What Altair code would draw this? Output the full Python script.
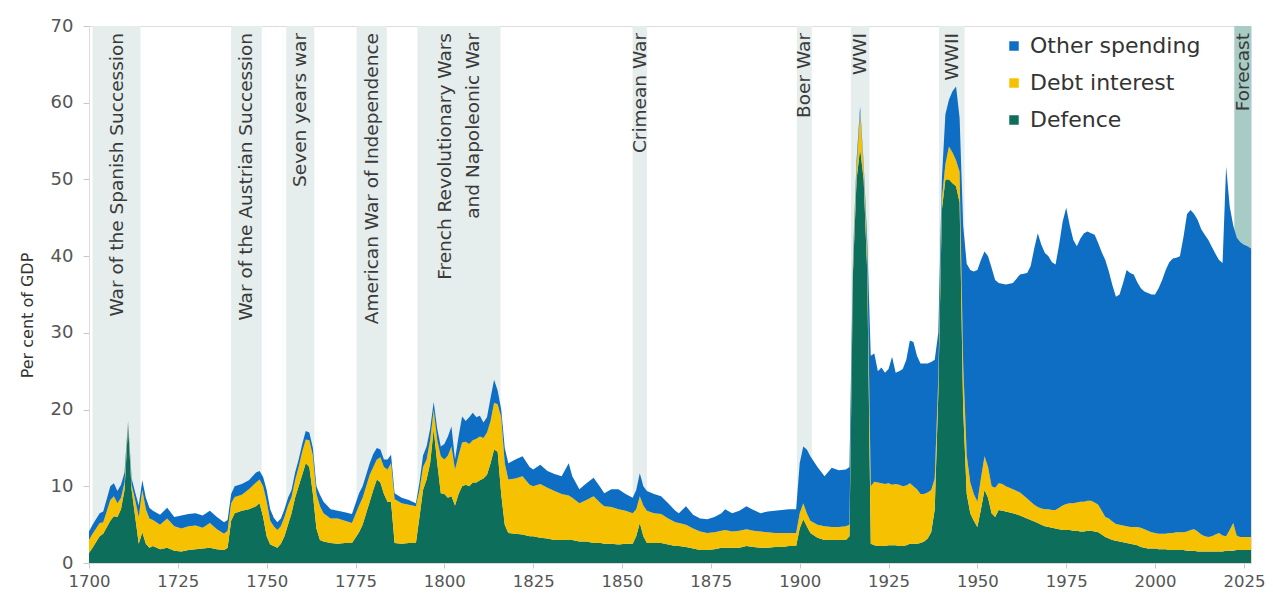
import altair as alt
import pandas as pd

# ---------------- data ----------------
YEARS = [
    1700, 1701, 1703, 1704, 1706, 1707, 1708, 1709, 1710, 1711, 1712, 1713, 1714, 1715, 1716, 1717, 1718, 1720, 1722, 1724, 1726, 1728, 1730, 1732, 1734, 1736, 1738, 1739,
    1740, 1741, 1743, 1745, 1747, 1748, 1749, 1750, 1751, 1752, 1753, 1754, 1755, 1756, 1757, 1758, 1759, 1760, 1761, 1762, 1763, 1764, 1765, 1766, 1768, 1770, 1772, 1774,
    1776, 1777, 1778, 1779, 1780, 1781, 1782, 1783, 1784, 1785, 1786, 1788, 1790, 1792, 1793, 1794, 1795, 1796, 1797, 1798, 1799,
    1800, 1801, 1802, 1803, 1804, 1805, 1806, 1807, 1808, 1809, 1810, 1811, 1812, 1813, 1814, 1815, 1816, 1817, 1818,
    1820, 1822, 1824, 1825, 1827, 1829, 1831, 1833, 1835, 1836, 1838, 1840, 1842, 1844, 1845, 1847, 1849, 1851, 1853, 1854,
    1855, 1856, 1857, 1859, 1861, 1863, 1865, 1866, 1868, 1870, 1872, 1874, 1876, 1878, 1879, 1881, 1883, 1885, 1887, 1889,
    1891, 1893, 1895, 1897, 1899,
    1900, 1901, 1902, 1903, 1905, 1907, 1909, 1911, 1913, 1914, 1915, 1916, 1917, 1918, 1919,
    1920, 1921, 1922, 1923, 1924, 1925, 1926, 1927, 1928, 1929, 1930, 1931, 1932, 1933, 1934, 1935, 1936, 1937, 1938, 1939,
    1940, 1941, 1942, 1943, 1944, 1945, 1946, 1947, 1948, 1949, 1950, 1951, 1952, 1953, 1954, 1955, 1956, 1957, 1958,
    1960, 1962, 1964,
    1965, 1966, 1967, 1968, 1969, 1970, 1971, 1972, 1973, 1974, 1975, 1976, 1977, 1978, 1979,
    1980, 1981, 1982, 1983, 1984, 1985, 1986, 1987, 1988, 1989, 1990, 1991, 1992, 1993, 1994,
    1995, 1996, 1997, 1998, 1999, 2000, 2001, 2002, 2003, 2004, 2005, 2006, 2007, 2008, 2009,
    2010, 2011, 2012, 2013, 2014, 2015, 2016, 2017, 2018, 2019, 2020, 2021, 2022, 2023, 2024,
    2025, 2026, 2027,
]

DEFENCE = [
    1.3, 2.0, 3.5, 3.8, 5.5, 6.1, 6.0, 7.0, 9.5, 18.0, 9.5, 6.0, 2.5, 4.0, 2.5, 2.0, 2.2, 1.8, 2.0, 1.6, 1.5, 1.7, 1.8, 1.9, 2.0, 1.8, 1.7, 2.0,
    5.5, 6.5, 6.8, 7.0, 7.4, 7.8, 6.0, 3.5, 2.4, 2.2, 2.0, 2.5, 3.5, 5.0, 6.5, 8.5, 10.0, 11.5, 13.0, 12.5, 9.0, 4.5, 3.0, 2.8, 2.6, 2.5, 2.6, 2.6,
    4.0, 5.0, 6.5, 8.0, 9.5, 10.9, 10.5, 9.0, 8.0, 8.0, 2.6, 2.5, 2.6, 2.6, 6.0, 9.5, 10.9, 13.0, 17.4, 13.0, 9.1,
    9.0, 8.5, 8.7, 7.5, 9.0, 10.0, 10.2, 10.0, 10.5, 10.5, 10.8, 11.0, 11.5, 13.0, 14.8, 14.5, 9.0, 5.0, 3.9,
    3.8, 3.7, 3.5, 3.5, 3.3, 3.2, 3.0, 3.0, 3.0, 3.0, 2.8, 2.8, 2.6, 2.6, 2.5, 2.5, 2.4, 2.5, 2.5, 3.5,
    5.2, 3.5, 2.6, 2.6, 2.6, 2.4, 2.2, 2.2, 2.1, 1.9, 1.7, 1.7, 1.8, 2.0, 2.0, 2.0, 2.0, 2.2, 2.1, 2.0,
    2.0, 2.1, 2.1, 2.2, 2.2,
    4.5, 5.7, 4.8, 3.9, 3.3, 3.0, 3.0, 3.0, 3.0, 3.5, 38.0, 50.0, 54.0, 50.0, 38.0,
    2.5, 2.3, 2.2, 2.2, 2.2, 2.3, 2.3, 2.3, 2.2, 2.2, 2.3, 2.5, 2.5, 2.5, 2.6, 2.8, 3.2, 4.0, 7.0, 22.0,
    46.0, 50.0, 50.0, 49.5, 49.1, 47.0, 20.0, 9.0, 6.5, 5.5, 4.7, 7.0, 9.5, 8.5, 6.5, 6.0, 6.9, 6.8, 6.7,
    6.5, 6.2, 5.8,
    5.6, 5.4, 5.2, 5.0, 4.8, 4.7, 4.6, 4.5, 4.4, 4.3, 4.3, 4.3, 4.2, 4.2, 4.1,
    4.1, 4.2, 4.2, 4.1, 4.0, 3.7, 3.4, 3.2, 3.0, 2.9, 2.8, 2.7, 2.6, 2.5, 2.4,
    2.3, 2.1, 2.0, 1.9, 1.9, 1.9, 1.8, 1.8, 1.8, 1.7, 1.7, 1.7, 1.7, 1.7, 1.6,
    1.6, 1.6, 1.5, 1.5, 1.5, 1.5, 1.5, 1.5, 1.5, 1.5, 1.6, 1.6, 1.6, 1.7, 1.7,
    1.7, 1.7, 1.7,
]

DEBT_INTEREST = [
    1.7, 1.8, 1.7, 1.5, 2.7, 2.6, 1.8, 1.5, 1.0, 0.3, 0.7, 2.2, 3.5, 5.5, 4.5, 3.8, 3.4, 3.2, 3.8, 3.2, 3.0, 3.1, 3.1, 2.7, 3.2, 2.6, 2.1, 2.2,
    2.3, 2.1, 2.1, 2.6, 3.1, 3.1, 4.0, 4.5, 3.1, 2.6, 2.3, 2.3, 2.5, 2.5, 2.1, 2.3, 2.5, 3.0, 3.1, 3.5, 5.0, 4.5, 4.4, 3.7, 3.2, 3.3, 2.9, 2.6,
    3.5, 3.5, 3.5, 3.5, 3.0, 2.6, 3.3, 3.5, 4.2, 5.0, 5.7, 5.3, 5.0, 4.8, 3.5, 3.0, 2.6, 3.0, 2.6, 3.0, 4.8,
    4.5, 5.5, 6.5, 4.7, 5.0, 5.7, 5.6, 5.5, 5.5, 5.7, 5.7, 5.3, 5.5, 5.5, 6.1, 6.2, 10.0, 8.0, 7.0,
    7.2, 7.6, 6.7, 6.5, 7.0, 6.6, 6.4, 6.0, 5.8, 5.5, 5.0, 5.4, 6.1, 5.2, 4.9, 4.8, 4.6, 4.3, 4.0, 3.5,
    3.5, 4.0, 4.2, 3.9, 3.8, 3.4, 3.1, 3.0, 2.9, 2.6, 2.4, 2.2, 2.2, 2.2, 2.3, 2.1, 2.2, 2.2, 2.1, 2.1,
    2.0, 1.8, 1.8, 1.7, 1.7,
    2.0, 2.1, 1.7, 1.6, 1.7, 1.8, 1.7, 1.7, 1.8, 1.5, 1.0, 1.5, 4.8, 1.5, 2.0,
    7.5, 8.3, 8.3, 8.2, 8.1, 8.1, 7.9, 8.0, 8.0, 7.8, 7.8, 7.9, 7.5, 7.1, 6.4, 6.2, 6.0, 5.5, 4.0, 2.0,
    1.5, 2.0, 4.3, 4.0, 3.4, 4.0, 6.0, 5.0, 4.0, 3.5, 3.3, 4.0, 4.4, 4.0, 3.5, 3.8, 3.5, 3.5, 3.3,
    3.1, 3.0, 2.6,
    2.4, 2.2, 2.1, 2.1, 2.2, 2.3, 2.3, 2.4, 2.8, 3.2, 3.4, 3.5, 3.6, 3.7, 3.9,
    3.9, 3.9, 3.9, 3.8, 3.6, 3.1, 2.6, 2.6, 2.4, 2.2, 2.2, 2.2, 2.2, 2.2, 2.3,
    2.4, 2.5, 2.4, 2.3, 2.1, 2.0, 2.0, 2.0, 2.0, 2.2, 2.2, 2.3, 2.3, 2.3, 2.5,
    2.7, 2.8, 2.6, 2.2, 2.0, 1.9, 2.0, 2.2, 2.4, 2.1, 1.9, 2.7, 3.6, 1.9, 1.7,
    1.7, 1.7, 1.7,
]

OTHER_SPENDING = [
    1.1, 1.2, 1.3, 1.4, 1.8, 1.7, 1.6, 1.7, 1.3, 0.2, 0.8, 1.0, 1.5, 1.3, 1.5, 1.4, 1.2, 1.3, 1.4, 1.2, 1.7, 1.6, 1.6, 1.6, 1.6, 1.6, 1.5, 1.4,
    1.2, 1.4, 1.4, 1.2, 1.3, 1.1, 1.2, 1.5, 1.5, 1.1, 1.0, 1.0, 1.0, 1.0, 0.9, 1.0, 1.0, 1.0, 1.1, 1.0, 1.0, 1.0, 1.5, 1.5, 1.2, 1.0, 1.1, 1.2,
    1.6, 1.5, 1.5, 1.5, 1.7, 1.5, 1.0, 1.0, 1.3, 1.1, 0.8, 0.7, 0.6, 0.4, 1.0, 1.5, 1.7, 1.5, 1.0, 1.5, 1.3,
    2.0, 2.5, 2.6, 1.3, 2.5, 3.4, 2.7, 3.5, 3.6, 2.8, 2.7, 2.0, 2.0, 3.0, 3.0, 1.8, 1.0, 2.0, 2.1,
    2.5, 2.6, 2.3, 2.2, 2.5, 2.2, 2.2, 2.3, 4.2, 2.8, 1.8, 2.2, 2.4, 2.0, 1.7, 2.3, 2.6, 2.2, 2.0, 2.5,
    3.0, 2.5, 2.6, 2.5, 2.3, 2.0, 1.5, 1.3, 2.4, 1.8, 1.7, 1.8, 2.0, 2.3, 2.7, 2.4, 2.6, 3.0, 2.7, 2.4,
    2.7, 2.9, 3.0, 3.1, 3.1,
    6.5, 7.4, 8.3, 8.4, 7.5, 6.5, 7.7, 7.4, 7.4, 7.5, 1.0, 1.0, 0.7, 0.5, 2.0,
    17.0, 16.7, 14.5, 15.1, 14.5, 14.9, 16.7, 14.5, 14.8, 15.3, 16.4, 18.6, 18.8, 17.4, 17.0, 17.0, 16.8, 16.7, 15.5, 6.0,
    2.5, 6.5, 6.1, 8.0, 9.6, 7.0, 18.0, 25.0, 27.7, 29.0, 30.2, 28.5, 26.7, 27.5, 28.5, 27.1, 26.1, 26.1, 26.3,
    26.9, 28.4, 29.4,
    30.7, 33.4, 35.7, 34.4, 33.4, 33.0, 32.3, 32.0, 34.3, 37.0, 38.6, 36.2, 34.3, 33.4, 34.3,
    35.0, 35.1, 34.9, 34.9, 34.1, 33.7, 33.5, 32.2, 30.8, 29.6, 30.0, 31.6, 33.4, 33.1, 32.9,
    31.9, 31.2, 31.0, 31.0, 31.0, 31.1, 32.0, 33.1, 34.4, 35.3, 35.8, 35.8, 36.0, 38.5, 41.4,
    41.7, 41.1, 40.6, 39.8, 39.3, 38.7, 37.7, 36.6, 35.6, 35.5, 48.2, 42.2, 38.8, 38.8, 38.4,
    38.1, 37.9, 37.6,
]

SERIES = ["Other spending", "Debt interest", "Defence"]
SERIES_COLORS = ["#0d6ec4", "#f5c100", "#0d6e5c"]
STACK_ORDER = {"Defence": 0, "Debt interest": 1, "Other spending": 2}

WAR_NAMES = [
    "War of the Spanish Succession",
    "War of the Austrian Succession",
    "Seven years war",
    "American War of Independence",
    "French Revolutionary Wars\nand Napoleonic War",
    "Crimean War",
    "Boer War",
    "WWI",
    "WWII",
]
WAR_START = [1701.0, 1740.0, 1755.5, 1775.3, 1792.4, 1853.0, 1899.2, 1914.4, 1939.2]
WAR_END = [1714.5, 1748.6, 1763.4, 1783.8, 1815.8, 1857.0, 1903.4, 1919.6, 1946.4]

FORECAST_NAME = ["Forecast"]
FORECAST_START = [2022.3]
FORECAST_END = [2027.0]

X_TICKS = [1700, 1725, 1750, 1775, 1800, 1825, 1850, 1875, 1900, 1925, 1950, 1975, 2000, 2025]
Y_TICKS = [0, 10, 20, 30, 40, 50, 60, 70]

assert len(YEARS) == len(DEFENCE) == len(DEBT_INTEREST) == len(OTHER_SPENDING)

# ---------------- tables ----------------
rows = []
for name, vals in [("Defence", DEFENCE), ("Debt interest", DEBT_INTEREST), ("Other spending", OTHER_SPENDING)]:
    for yr, v in zip(YEARS, vals):
        rows.append({"year": yr, "series": name, "value": v, "ord": STACK_ORDER[name]})
spend = pd.DataFrame(rows)

wars = pd.DataFrame({"name": WAR_NAMES, "start": WAR_START, "end": WAR_END})
forecast = pd.DataFrame({"name": FORECAST_NAME, "start": FORECAST_START, "end": FORECAST_END})
labels = pd.concat([wars, forecast], ignore_index=True)
labels["nlines"] = labels["name"].str.count("\n") + 1

FONT = "DejaVu Sans"
LABEL_SIZE = 18.5
LINE_H = 28
x_scale = alt.Scale(domain=[1700, 2027], nice=False, zero=False)
y_scale = alt.Scale(domain=[0, 70], nice=False)

war_bands = alt.Chart(wars).mark_rect(color="#e5eded").encode(
    x=alt.X("start:Q", scale=x_scale, title=None),
    x2="end:Q",
    y=alt.datum(0),
    y2=alt.datum(70),
)

forecast_band = alt.Chart(forecast).mark_rect(color="#a6ccc5").encode(
    x=alt.X("start:Q", scale=x_scale, title=None),
    x2="end:Q",
    y=alt.datum(0),
    y2=alt.datum(70),
)

areas = alt.Chart(spend).mark_area(interpolate="linear").encode(
    x=alt.X(
        "year:Q",
        scale=x_scale,
        title=None,
        axis=alt.Axis(
            values=X_TICKS, format="d", grid=False, labelFontSize=16.5, labelColor="#555555",
            labelFont=FONT, tickSize=5, tickColor="#c8c8c8", domainColor="#d8d8d8", labelPadding=5,
            labelFlush=False, labelOverlap=False,
        ),
    ),
    y=alt.Y(
        "value:Q",
        stack="zero",
        scale=y_scale,
        title="Per cent of GDP",
        axis=alt.Axis(
            values=Y_TICKS, labelFontSize=18, labelColor="#555555", labelFont=FONT,
            tickSize=6, tickColor="#c8c8c8", domainColor="#dcdcdc", gridColor="#e8e8e8",
            labelPadding=10, labelFlush=False, titleFontSize=16, titleFontWeight="normal",
            titleColor="#333333", titleFont=FONT, titleX=-62, titleY=289, titleAngle=270,
            titleBaseline="middle",
        ),
    ),
    color=alt.Color(
        "series:N",
        scale=alt.Scale(domain=SERIES, range=SERIES_COLORS),
        legend=alt.Legend(
            title=None, orient="none", legendX=914, legendY=9, symbolType="square",
            symbolSize=90, symbolStrokeWidth=0, symbolOpacity=1, labelFontSize=22,
            labelFont=FONT, labelColor="#333333", rowPadding=15, labelOffset=5, padding=0,
            labelLimit=400,
        ),
    ),
    order=alt.Order("ord:Q", sort="ascending"),
)

label_base = alt.Chart(labels).transform_calculate(
    mid="(datum.start + datum.end) / 2"
)

single_text = label_base.transform_filter("datum.nlines == 1").mark_text(
    angle=270, align="right", baseline="middle", dx=-7, fontSize=LABEL_SIZE,
    color="#3a3a3a", font=FONT,
).encode(
    x=alt.X("mid:Q", scale=x_scale, title=None),
    y=alt.datum(70),
    text="name:N",
)

multi_text = label_base.transform_filter("datum.nlines > 1").mark_text(
    angle=270, align="right", baseline="middle", dx=-7, dy=-LINE_H / 2,
    fontSize=LABEL_SIZE, lineHeight=LINE_H, lineBreak="\n", color="#3a3a3a", font=FONT,
).encode(
    x=alt.X("mid:Q", scale=x_scale, title=None),
    y=alt.datum(70),
    text="name:N",
)

chart = alt.layer(war_bands, forecast_band, areas, single_text, multi_text).properties(
    width=1162,
    height=537,
    autosize=alt.AutoSizeParams(type="none"),
    padding={"left": 81, "top": 18, "right": 14, "bottom": 30},
).configure_view(stroke=None).configure(font=FONT)

chart.save("out.html", embed_options={"renderer": "svg", "actions": False})
